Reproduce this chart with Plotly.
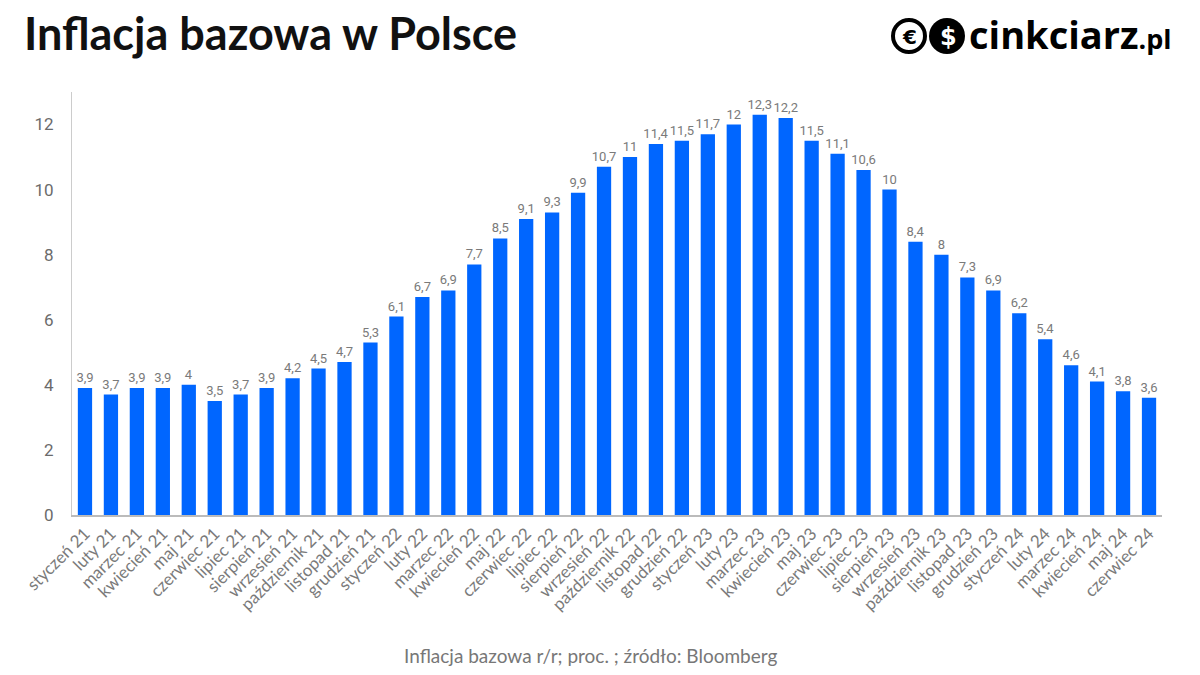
import plotly.graph_objects as go

months = ["styczeń", "luty", "marzec", "kwiecień", "maj", "czerwiec", "lipiec",
          "sierpień", "wrzesień", "październik", "listopad", "grudzień"]
years = ["21", "22", "23", "24"]
categories = [f"{m} {y}" for y in years for m in months][:42]

values = [3.9, 3.7, 3.9, 3.9, 4, 3.5, 3.7, 3.9, 4.2, 4.5, 4.7, 5.3,
          6.1, 6.7, 6.9, 7.7, 8.5, 9.1, 9.3, 9.9, 10.7, 11, 11.4, 11.5,
          11.7, 12, 12.3, 12.2, 11.5, 11.1, 10.6, 10, 8.4, 8, 7.3, 6.9,
          6.2, 5.4, 4.6, 4.1, 3.8, 3.6]

labels = [(f"{v:g}").replace(".", ",") for v in values]

L, R, T, B = 72, 38, 92, 160
W, H = 1200, 675
PW, PH = W - L - R, H - T - B


def px(x):
    return (x - L) / PW


def py(y):
    return (H - B - y) / PH


fig = go.Figure()
fig.add_trace(go.Bar(
    x=categories, y=values, text=labels, textposition="outside",
    textfont=dict(family="Roboto", size=13, color="#7a7a7a"),
    constraintext="none",
    marker=dict(color="#0066ff", line=dict(width=0)),
    cliponaxis=False,
))

fig.update_layout(
    width=W, height=H,
    paper_bgcolor="white", plot_bgcolor="white",
    margin=dict(l=L, r=R, t=T, b=B),
    bargap=0.45,
    showlegend=False,
    font=dict(family="Lato", color="#777"),
    xaxis=dict(
        type="category", tickangle=-45, showgrid=False,
        showline=True, linecolor="#bbbbbb", linewidth=2,
        ticks="", tickfont=dict(family="Lato", size=17, color="#7a7a7a"),
    ),
    yaxis=dict(
        range=[0, 13], tickvals=[0, 2, 4, 6, 8, 10, 12], showgrid=False,
        zeroline=False, showline=True, linecolor="#cccccc", linewidth=1,
        ticks="outside", ticklen=14, tickcolor="white",
        tickfont=dict(family="Roboto", size=17, color="#6b6b6b"),
    ),
)

# Title
fig.add_annotation(text="<b>Inflacja bazowa w Polsce</b>", xref="paper", yref="paper",
                   x=px(22), y=py(33), xanchor="left", yanchor="middle", showarrow=False,
                   font=dict(family="Lato", size=45, color="#111"))

# Footer
fig.add_annotation(text="Inflacja bazowa r/r; proc. ; źródło: Bloomberg", xref="paper",
                   yref="paper", x=px(590), y=py(655), xanchor="center", yanchor="middle",
                   showarrow=False, font=dict(family="Lato", size=19, color="#777"))

# Logo
fig.add_shape(type="circle", xref="paper", yref="paper", xsizemode="pixel", ysizemode="pixel",
              xanchor=px(909), yanchor=py(36),
              x0=-16, x1=16, y0=-16, y1=16, line=dict(color="black", width=4))
fig.add_shape(type="circle", xref="paper", yref="paper", xsizemode="pixel", ysizemode="pixel",
              xanchor=px(947), yanchor=py(36),
              x0=-18, x1=18, y0=-18, y1=18, fillcolor="black", line=dict(color="black", width=0))
fig.add_annotation(text="<b>€</b>", xref="paper", yref="paper",
                   x=px(909), y=py(37), xanchor="center", yanchor="middle", showarrow=False,
                   font=dict(family="DejaVu Sans", size=20, color="black"))
fig.add_annotation(text="<b>$</b>", xref="paper", yref="paper",
                   x=px(948), y=py(37), xanchor="center", yanchor="middle", showarrow=False,
                   font=dict(family="DejaVu Sans", size=24, color="white"))
fig.add_annotation(text="<b>cinkciarz</b><b style='font-size:27px'>.pl</b>", xref="paper", yref="paper",
                   x=px(1174), y=py(34), xanchor="right", yanchor="middle",
                   showarrow=False, font=dict(family="Open Sans", size=38, color="black"))

fig.write_html("out.html", config={"displayModeBar": False},
               post_script="document.body.style.margin='0';")
